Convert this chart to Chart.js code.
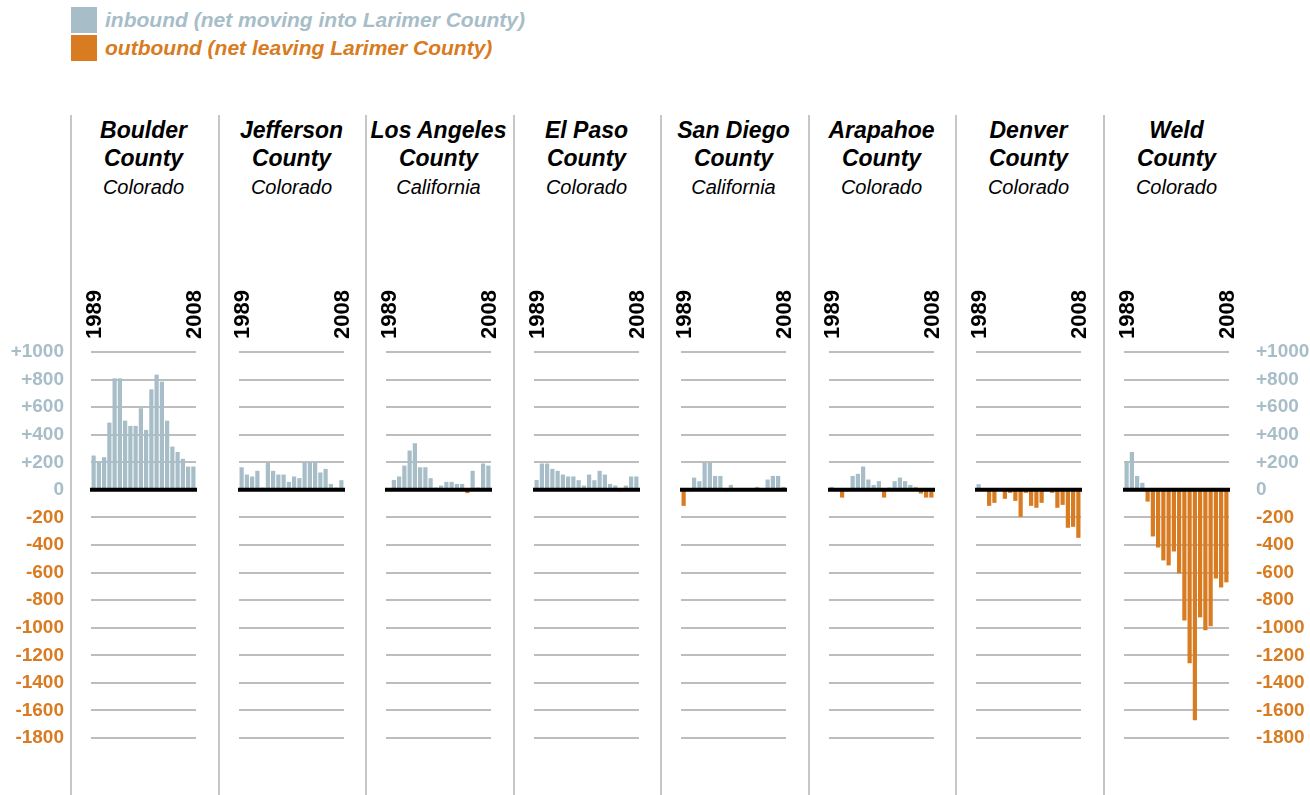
<!DOCTYPE html>
<html>
<head>
<meta charset="utf-8">
<script src="https://cdn.jsdelivr.net/npm/chart.js@4.4.1/dist/chart.umd.min.js"></script>
<style>
  body { margin: 0; width: 1310px; height: 795px; position: relative; overflow: hidden; background: #fff;
         font-family: "Liberation Sans", Arial, sans-serif; }
  .sep { position: absolute; top: 115px; height: 680px; width: 2px; background: #c6c6c6; }
  .county { position: absolute; top: 116px; width: 150px; text-align: center; font-weight: bold;
            font-style: italic; font-size: 23px; line-height: 28px; color: #000; }
  .state { position: absolute; top: 175px; width: 150px; text-align: center; font-style: italic;
           font-size: 20px; line-height: 24px; color: #000; }
  .key { position: absolute; left: 71px; width: 26px; height: 26px; }
  .keytext { position: absolute; left: 105px; font-weight: bold; font-style: italic; font-size: 21px; line-height: 26px; }
  canvas { position: absolute; top: 260px; }
</style>
</head>
<body>
<div class="key" style="top:7px;background:#a7bdc8"></div>
<div class="keytext" style="top:7px;color:#a7bdc8">inbound (net moving into Larimer County)</div>
<div class="key" style="top:35px;background:#d87b21"></div>
<div class="keytext" style="top:35px;color:#d87b21">outbound (net leaving Larimer County)</div>

<script>
// years on the x axis (only first and last are labelled)
const years = ['1989', '1990', '1991', '1992', '1993', '1994', '1995', '1996', '1997', '1998',
               '1999', '2000', '2001', '2002', '2003', '2004', '2005', '2006', '2007', '2008'];

const countyNames = [['Boulder', 'County'], ['Jefferson', 'County'], ['Los Angeles', 'County'], ['El Paso', 'County'],
                     ['San Diego', 'County'], ['Arapahoe', 'County'], ['Denver', 'County'], ['Weld', 'County']];
const states = ['Colorado', 'Colorado', 'California', 'Colorado', 'California', 'Colorado', 'Colorado', 'Colorado'];

// net migration per year (positive = moving into Larimer County)
const boulder    = [249, 205, 237, 488, 809, 809, 502, 464, 464, 592, 435, 729, 836, 785, 502, 314, 275, 225, 169, 169];
const jefferson  = [164, 111, 97, 138, 17, 198, 138, 111, 111, 58, 97, 85, 198, 198, 198, 126, 152, 43, 17, 70];
const losAngeles = [0, 72, 97, 176, 285, 338, 164, 164, 85, 17, 31, 58, 58, 43, 43, -24, 138, 17, 191, 176];
const elPaso     = [72, 191, 191, 152, 138, 111, 97, 97, 70, 31, 111, 70, 138, 111, 43, 31, -10, 31, 97, 97];
const sanDiego   = [-116, -10, 89, 63, 196, 196, 101, 101, -10, 36, -5, -8, 0, -8, 22, -8, 75, 101, 101, 22];
const arapahoe   = [22, -10, -56, -10, 101, 116, 169, 75, 36, 63, -56, 17, 63, 89, 63, 36, 22, -27, -56, -56];
const denver     = [41, 0, -116, -94, -5, -65, -22, -80, -196, -22, -116, -130, -94, -5, -22, -130, -109, -275, -268, -348];
const weld       = [205, 275, 101, 51, -85, -338, -418, -512, -548, -447, -606, -947, -1258, -1671, -925, -1019, -990, -643, -708, -671];

const series = [boulder, jefferson, losAngeles, elPaso, sanDiego, arapahoe, denver, weld];

// y axis ticks
const tickValues = [1000, 800, 600, 400, 200, 0, -200, -400, -600, -800, -1000, -1200, -1400, -1600, -1800];
const tickLabels = ['+1000', '+800', '+600', '+400', '+200', '0', '-200', '-400', '-600', '-800',
                    '-1000', '-1200', '-1400', '-1600', '-1800'];

const BLUE = '#a7bdc8';
const ORANGE = '#d87b21';
const FONT = '"Liberation Sans", Arial, sans-serif';

// thick black zero line on top of the bars
const zeroLine = {
    id: 'zeroLine',
    afterDatasetsDraw(chart) {
        const y0 = chart.scales.y.getPixelForValue(0);
        const a = chart.chartArea;
        const ctx = chart.ctx;
        ctx.save();
        ctx.strokeStyle = '#000';
        ctx.lineWidth = 4;
        ctx.beginPath();
        ctx.moveTo(a.left - 1, y0);
        ctx.lineTo(a.right + 1, y0);
        ctx.stroke();
        ctx.restore();
    }
};

const PLOT_W = 105;
const MARGIN = 15;

series.forEach((values, i) => {
    const sepX = Math.round(70 + 147.5 * i);
    const plotLeft = Math.round(91 + 147.5 * i);
    const center = plotLeft + PLOT_W / 2;

    // separator
    const sep = document.createElement('div');
    sep.className = 'sep';
    sep.style.left = sepX + 'px';
    document.body.appendChild(sep);

    // headings
    const t = document.createElement('div');
    t.className = 'county';
    t.style.left = (center - 75) + 'px';
    t.innerHTML = countyNames[i][0] + '<br>' + countyNames[i][1];
    document.body.appendChild(t);
    const s = document.createElement('div');
    s.className = 'state';
    s.style.left = (center - 75) + 'px';
    s.textContent = states[i];
    document.body.appendChild(s);

    const first = i === 0, last = i === series.length - 1;
    const yWidth = first ? plotLeft : (last ? 1310 - (plotLeft + PLOT_W) : 0);
    const canvasLeft = first ? 0 : plotLeft - MARGIN;
    const canvasW = first ? plotLeft + PLOT_W + MARGIN : (last ? 1310 - canvasLeft : PLOT_W + 2 * MARGIN);
    const canvasH = 490;

    const cv = document.createElement('canvas');
    cv.width = canvasW;
    cv.height = canvasH;
    cv.style.left = canvasLeft + 'px';
    cv.style.width = canvasW + 'px';
    cv.style.height = canvasH + 'px';
    document.body.appendChild(cv);

    new Chart(cv.getContext('2d'), {
        type: 'bar',
        data: {
            labels: years,
            datasets: [{
                data: values,
                backgroundColor: values.map(v => v >= 0 ? BLUE : ORANGE),
                barPercentage: 0.8,
                categoryPercentage: 1
            }]
        },
        options: {
            responsive: false,
            animation: false,
            layout: { padding: { left: first ? 0 : MARGIN, right: last ? 0 : MARGIN, top: 0, bottom: 12 } },
            plugins: { legend: { display: false }, tooltip: { enabled: false } },
            scales: {
                x: {
                    position: 'top',
                    grid: { display: false },
                    border: { display: false },
                    ticks: {
                        autoSkip: false,
                        minRotation: 90,
                        maxRotation: 90,
                        padding: 5,
                        labelOffset: 28,
                        color: '#000',
                        font: { family: FONT, size: 22, weight: 'bold' },
                        callback: (v, idx) => (idx === 0 || idx === years.length - 1) ? years[idx] : ''
                    },
                    afterFit: sc => { sc.height = 92; sc.paddingLeft = 0; sc.paddingRight = 0; }
                },
                y: {
                    position: last ? 'right' : 'left',
                    min: -1800,
                    max: 1000,
                    grid: {
                        drawTicks: false,
                        lineWidth: 2,
                        color: c => c.tick.value === 0 ? 'rgba(0,0,0,0)' : '#bdbdbd'
                    },
                    border: { display: false },
                    ticks: {
                        display: first || last,
                        stepSize: 200,
                        padding: 27,
                        color: c => c.tick.value >= 0 ? BLUE : ORANGE,
                        font: { family: FONT, size: 19, weight: 'bold' },
                        callback: v => tickLabels[tickValues.indexOf(v)]
                    },
                    afterFit: sc => { sc.width = yWidth; sc.paddingTop = 0; sc.paddingBottom = 0; }
                }
            }
        },
        plugins: [zeroLine]
    });
});
</script>
</body>
</html>
